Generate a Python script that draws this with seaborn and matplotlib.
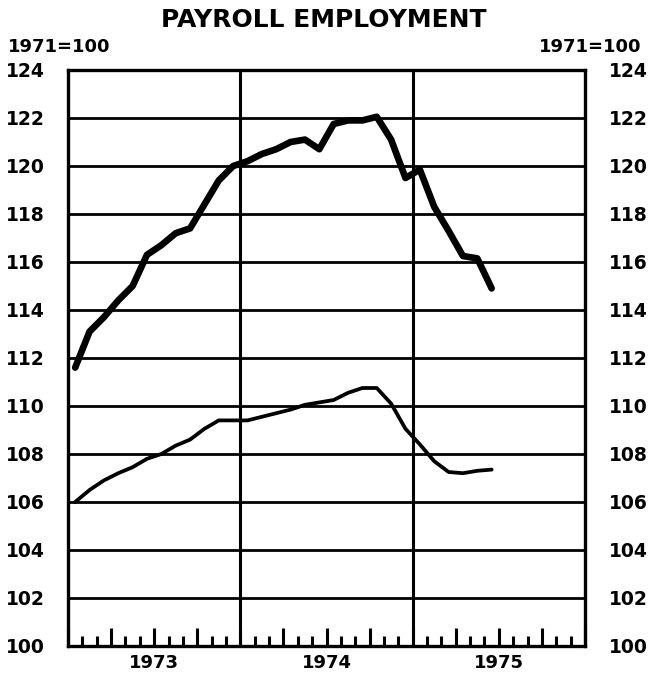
import numpy as np
import pandas as pd
import matplotlib
matplotlib.use("Agg")
import matplotlib.pyplot as plt
import seaborn as sns

# Monthly index values, January 1973 - June 1975 (1971 = 100)
months = pd.period_range("1973-01", "1975-06", freq="M")
upper_series = [111.6, 113.1, 113.7, 114.4, 115.0, 116.3, 116.7, 117.2, 117.4, 118.4,
                119.4, 120.0, 120.2, 120.5, 120.7, 121.0, 121.1, 120.7, 121.75, 121.9,
                121.9, 122.05, 121.1, 119.5, 119.85, 118.3, 117.3, 116.25, 116.15, 114.9]
lower_series = [106.0, 106.5, 106.9, 107.2, 107.45, 107.8, 108.0, 108.35, 108.6, 109.05,
                109.4, 109.4, 109.4, 109.55, 109.7, 109.85, 110.05, 110.15, 110.25, 110.55,
                110.75, 110.75, 110.1, 109.05, 108.4, 107.7, 107.25, 107.2, 107.3, 107.35]
year_labels = ["1973", "1974", "1975"]
y_ticks = list(range(100, 125, 2))

# place each monthly value at the middle of its month
xpos = np.array([p.year + (p.month - 0.5) / 12 for p in months])
df = pd.DataFrame({
    "x": np.concatenate([xpos, xpos]),
    "value": upper_series + lower_series,
    "series": ["upper"] * len(xpos) + ["lower"] * len(xpos),
})

sns.set_style("white")
plt.rcParams["font.family"] = ["DejaVu Sans"]
plt.rcParams["font.weight"] = "bold"
plt.rcParams["text.color"] = "black"
plt.rcParams["xtick.color"] = "black"
plt.rcParams["ytick.color"] = "black"
plt.rcParams["xtick.labelcolor"] = "black"
plt.rcParams["ytick.labelcolor"] = "black"

fig = plt.figure(figsize=(6.48, 6.77), dpi=100)
ax = fig.add_axes([68 / 648, 1 - 646 / 677, (585 - 68) / 648, (646 - 70) / 677])

sns.lineplot(data=df[df.series == "upper"], x="x", y="value", ax=ax,
             color="black", linewidth=4.8, solid_capstyle="round",
             solid_joinstyle="round", legend=False)
sns.lineplot(data=df[df.series == "lower"], x="x", y="value", ax=ax,
             color="black", linewidth=2.7, solid_capstyle="round",
             solid_joinstyle="round", legend=False)

ax.set_xlim(1973, 1976)
ax.set_ylim(100, 124)
ax.set_xlabel("")
ax.set_ylabel("")

# horizontal grid at every 2 index points, vertical rules at year boundaries
for yv in y_ticks:
    ax.axhline(yv, color="black", linewidth=2.0, zorder=1)
for yr in (1974, 1975):
    ax.axvline(yr, color="black", linewidth=2.2, zorder=1)

for sp in ax.spines.values():
    sp.set_visible(True)
    sp.set_color("black")
    sp.set_linewidth(2.4)

# quarterly (tall) and monthly (short) ticks inside the bottom edge
quarters = [1973 + q / 4 for q in range(0, 13)]
ax.set_xticks(quarters)
ax.set_xticklabels([year_labels[int(q - 1973)] if abs((q % 1) - 0.5) < 1e-6 else ""
                    for q in quarters])
ax.set_xticks([1973 + m / 12 for m in range(0, 37)], minor=True)
ax.tick_params(axis="x", which="major", direction="in", length=13, width=2.2,
               bottom=True, top=False, labelsize=13, pad=6, color="black")
ax.tick_params(axis="x", which="minor", direction="in", length=7.5, width=2.2,
               bottom=True, top=False, color="black")

ax.set_yticks(y_ticks)
ax.set_yticklabels([str(v) for v in y_ticks])
ax.tick_params(axis="y", which="both", length=0, labelsize=13.5, left=False, right=False,
               labelleft=True, labelright=True)
ax.tick_params(axis="y", which="major", pad=17)
for lbl in ax.get_yticklabels() + ax.get_xticklabels():
    lbl.set_fontweight("bold")
    lbl.set_color("black")

fig.text(0.5, 1 - 20 / 677, "PAYROLL EMPLOYMENT", ha="center", va="center",
         fontsize=18, fontweight="bold", color="black")
fig.text(8 / 648, 1 - 47 / 677, "1971=100", ha="left", va="center",
         fontsize=13, fontweight="bold", color="black")
fig.text(641 / 648, 1 - 47 / 677, "1971=100", ha="right", va="center",
         fontsize=13, fontweight="bold", color="black")

fig.savefig("out.png", dpi=100, facecolor="white")
